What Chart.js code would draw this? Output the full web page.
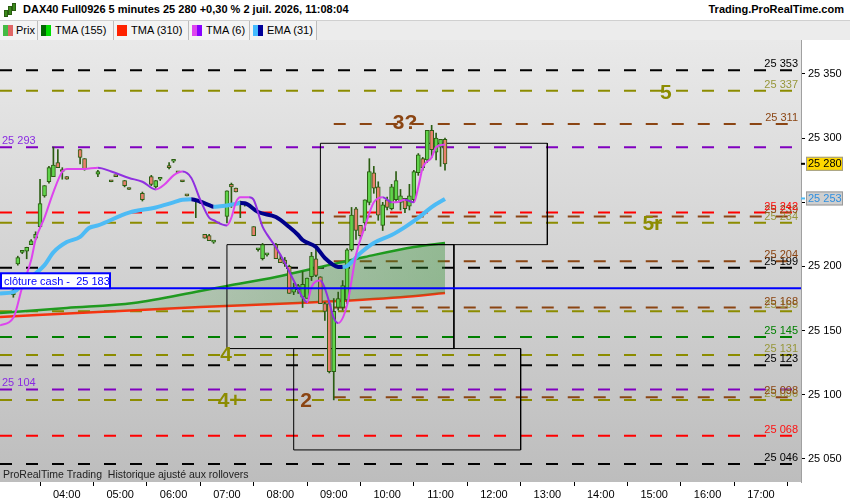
<!DOCTYPE html>
<html lang="fr">
<head>
<meta charset="utf-8">
<title>DAX40 Full0926 5 minutes</title>
<script src="https://cdn.jsdelivr.net/npm/chart.js@4/dist/chart.umd.min.js"></script>
<style>
  html, body { margin: 0; padding: 0; background: #fff; }
  body { width: 850px; height: 500px; position: relative; overflow: hidden; font-family: "Liberation Sans", Arial, sans-serif; }
  #graphique { position: absolute; left: 0; top: 0; }
  #entete { position: absolute; left: 0; top: 0; width: 850px; height: 20px; background: #fff; }
  #entete .titre { position: absolute; left: 23px; top: 3px; font-weight: bold; font-size: 11px; color: #000; }
  #entete .site { position: absolute; right: 6px; top: 3px; font-weight: bold; font-size: 11px; color: #000; }
  #entete i { position: absolute; width: 2px; background: #3a8a1a; border: 1px solid #2b5d12; }
  #legende { position: absolute; left: 0; top: 20px; width: 850px; height: 19px; background: #ececec; border-top: 1px solid #d0d0d0; }
  #legende .item { position: absolute; top: 0; height: 19px; background: #f3f3f3; border-right: 1px solid #bdbdbd; font-size: 11px; line-height: 19px; color: #000; box-sizing: border-box; }
  #legende .item b { position: absolute; left: 3px; top: 4px; width: 10px; height: 11px; }
</style>
</head>
<body>
<canvas id="graphique" width="850" height="500"></canvas>
<div id="entete">
  <i style="left:4px;top:10px;height:5px"></i>
  <i style="left:8px;top:6px;height:7px"></i>
  <i style="left:12px;top:3px;height:6px"></i>
  <span class="titre">DAX40 Full0926 5 minutes 25 280 +0,30 % 2 juil. 2026, 11:08:04</span>
  <span class="site">Trading.ProRealTime.com</span>
</div>
<div id="legende">
  <div class="item" style="left:0;width:38px;padding-left:16px"><b style="background:linear-gradient(90deg,#44bb44 50%,#e06666 50%)"></b>Prix</div>
  <div class="item" style="left:38px;width:76px;padding-left:17px"><b style="background:linear-gradient(90deg,#006600 50%,#00dd00 50%)"></b>TMA (155)</div>
  <div class="item" style="left:114px;width:75px;padding-left:17px"><b style="background:#ff2200"></b>TMA (310)</div>
  <div class="item" style="left:189px;width:61px;padding-left:17px"><b style="background:linear-gradient(90deg,#dd44ee 50%,#8800ff 50%)"></b>TMA (6)</div>
  <div class="item" style="left:250px;width:67px;padding-left:17px"><b style="background:linear-gradient(90deg,#44bbff 50%,#000099 50%)"></b>EMA (31)</div>
</div>
<script>
// bougies 5 minutes
const heures = ['03:00','03:05','03:10','03:15','03:20','03:25','03:30','03:35','03:40','03:45','03:50','03:55','04:00',
  '04:15','04:20','04:35','04:50','04:55','05:05','05:10','05:25','05:35','05:40','05:45','05:55','06:00','06:05','06:10','06:15',
  '06:25','06:30','06:35','06:40','06:45','07:00','07:05','07:10','07:15','07:20','07:30','07:35','07:40','07:45','07:55',
  '08:00','08:05','08:10','08:15','08:20','08:25','08:30','08:35','08:40','08:45','08:50','08:55','09:00','09:05','09:10',
  '09:15','09:20','09:25','09:30','09:35','09:40','09:45','09:50','09:55','10:00','10:05','10:10','10:15','10:20','10:25',
  '10:30','10:35','10:40','10:45','10:50','10:55','11:00','11:05'];
const ouvertures = [25178,25202,25211,25212,25217,25222,25231,25255,25266,25270,25281,25275,25270,
  25291,25284,25272,25267,25271,25267,25261,25257,25270,25262,25268,25278,25282,25274,25267,25256,
  25251,25250,25225,25224,25219,25239,25264,25261,25249,25248,25231,25213,25206,25209,25217,
  25206,25205,25200,25180,25182,25176,25175,25192,25206,25192,25171,25171,25118,25168,25168,
  25174,25213,25245,25232,25234,25250,25273,25262,25232,25252,25245,25252,25250,25253,25247,
  25252,25273,25284,25283,25306,25289,25293,25299];
const hauts = [25185,25208,25212,25215,25221,25227,25268,25263,25278,25293,25291,25277,25270,
  25291,25284,25275,25267,25271,25267,25261,25258,25271,25267,25268,25281,25282,25274,25267,25256,
  25252,25250,25225,25225,25219,25259,25265,25261,25251,25250,25231,25213,25218,25209,25218,
  25209,25207,25201,25187,25186,25196,25191,25211,25214,25192,25172,25172,25175,25180,25189,
  25214,25246,25246,25232,25252,25284,25278,25266,25250,25254,25264,25274,25260,25253,25264,
  25275,25288,25285,25306,25310,25304,25299,25300];
const bas = [25176,25201,25210,25206,25217,25221,25230,25254,25265,25270,25277,25268,25268,
  25280,25275,25270,25266,25270,25262,25260,25251,25263,25261,25267,25276,25281,25273,25266,25255,
  25238,25249,25222,25220,25218,25234,25246,25258,25238,25247,25224,25212,25205,25208,25206,
  25203,25200,25179,25178,25179,25168,25175,25189,25192,25171,25158,25117,25096,25166,25166,
  25171,25212,25221,25222,25228,25248,25257,25236,25228,25244,25244,25250,25244,25242,25244,
  25250,25271,25275,25281,25285,25283,25278,25275];
const clotures = [25181,25207,25211,25215,25220,25225,25249,25263,25277,25279,25277,25274,25268,
  25285,25276,25274,25266,25270,25263,25260,25252,25264,25267,25268,25277,25282,25273,25266,25255,
  25252,25250,25222,25220,25219,25259,25262,25258,25250,25250,25224,25213,25217,25209,25206,
  25203,25202,25179,25184,25185,25186,25191,25208,25193,25171,25165,25118,25165,25175,25185,
  25213,25240,25228,25224,25252,25274,25261,25240,25248,25246,25262,25267,25255,25245,25255,
  25274,25287,25277,25306,25291,25300,25299,25280];

// moyennes mobiles
const tma6Heures = ['02:45','03:00','03:10','03:20','03:25','03:35','03:45','03:55','04:00','04:20','04:35','04:50','05:10',
  '05:25','05:40','05:50','06:00','06:10','06:20','06:30','06:40','06:45','07:00','07:05','07:10','07:15','07:25','07:30',
  '07:40','07:45','07:55','08:05','08:15','08:25','08:30','08:35','08:45','08:50','08:55','09:00','09:05','09:15','09:20',
  '09:25','09:35','09:45','09:55','10:05','10:10','10:20','10:30','10:35','10:40','10:50','10:55','11:05'];
const tma6Valeurs = [25154,25160,25184,25205,25221,25238,25258,25274,25276,25276,25277,25274,25269,
  25266,25260,25264,25271,25274,25269,25252,25238,25236,25232,25238,25250,25254,25254,25252,
  25231,25225,25215,25203,25189,25176,25172,25184,25189,25183,25172,25160,25156,25170,25189,
  25209,25231,25250,25254,25250,25250,25252,25250,25262,25277,25285,25293,25295];
const ema31Heures = ['02:45','03:00','03:15','03:35','03:45','04:00','04:15','04:25','04:35','05:10','05:40','06:00','06:10',
  '06:20','06:30','06:40','06:45','06:50','07:00','07:10','07:15','07:20','07:35','07:55','08:10','08:20','08:25','08:40',
  '08:50','09:05','09:10','09:15','09:30','09:45','10:05','10:20','10:35','10:50','11:05'];
const ema31Valeurs = [25179,25180,25189,25201,25211,25219,25223,25230,25232,25242,25246,25250,25252,
  25252.3,25250.5,25247.8,25246.5,25246.7,25247.5,25248.8,25249.5,25249.3,25242.4,25238.5,25230.7,25224.5,25220.6,25215.2,
  25206.6,25199.6,25199.5,25200.4,25210.5,25218.3,25224.5,25230.7,25237.8,25246.3,25252.6];
const tma155Heures = ['02:45','04:00','05:15','06:30','07:00','07:55','08:50','09:35','10:30','11:05'];
const tma155Valeurs = [25163.7,25167.6,25171.5,25180.9,25184.8,25191.8,25200.4,25207.4,25215.2,25218.3];
const tma310Heures = ['02:45','04:35','06:30','08:20','10:15','11:05'];
const tma310Valeurs = [25160.6,25164.5,25168.4,25171.5,25176,25179.3];

// niveaux horizontaux
const niveauxNoirs = [25353, 25199, 25123, 25046];
const niveauxOlive = [25337, 25234, 25165, 25131, 25096];
const niveauxMarron = [25311, 25239, 25204, 25168, 25098];
const niveauxViolets = [25293, 25104];
const niveauxRouges = [25242, 25068];
const niveauxVerts = [25145];
const debutMarron = '09:00';
const clotureCash = 25183;
const dernierPrix = 25280;
const dernierEma = 25253;

// rectangles
const rectDebut = ['08:45', '07:00', '08:15'];
const rectFin = ['13:00', '11:15', '12:30'];
const rectHaut = [25296, 25217, 25136];
const rectBas = [25217, 25136, 25057];

// étiquettes des vagues
const vagueTextes = ['5', '3?', '5r', '4', '4+', '2'];
const vagueHeures = ['15:13', '10:20', '14:58', '06:59', '07:03', '08:29'];
const vaguePrix = [25335, 25312, 25233, 25131, 25095, 25095];

// axes
const debutAxe = '02:45';
const finAxe = '17:45';
const xTicks = ['04:00','05:00','06:00','07:00','08:00','09:00','10:00','11:00','12:00','13:00','14:00','15:00','16:00','17:00'];
const yTicks = [25050, 25100, 25150, 25200, 25250, 25300, 25350];
const yMin = 25032, yMax = 25376.5;

const police = '"Liberation Sans", Arial, sans-serif';
const enMinutes = h => { const [a, b] = h.split(':').map(Number); return a * 60 + b; };
const versHeure = m => String(Math.floor(m / 60)).padStart(2, '0') + ':' + String(m % 60).padStart(2, '0');
const fmtPrix = v => { const s = Math.round(v).toString(); return s.slice(0, 2) + ' ' + s.slice(2); };

const couleurs = { noir: '#000000', olive: '#8c8c00', marron: '#8b4513', violet: '#8000c0', rouge: '#ff0000', vert: '#008000' };
const couleursTexte = { noir: '#000000', olive: '#97973a', marron: '#8b4513', violet: '#8a2be2', rouge: '#ff1010', vert: '#008000' };
const couleurVague = { '5': '#8c8c00', '3?': '#8b4513', '5r': '#8c8c00', '4': '#8c8c00', '4+': '#8c8c00', '2': '#8b4513' };

const xMin = enMinutes(debutAxe), xMax = enMinutes(finAxe);
const groupes = [
  { valeurs: niveauxNoirs, couleur: 'noir', debut: xMin },
  { valeurs: niveauxOlive, couleur: 'olive', debut: xMin },
  { valeurs: niveauxMarron, couleur: 'marron', debut: enMinutes(debutMarron) },
  { valeurs: niveauxViolets, couleur: 'violet', debut: xMin },
  { valeurs: niveauxRouges, couleur: 'rouge', debut: xMin },
  { valeurs: niveauxVerts, couleur: 'vert', debut: xMin }
];

const serie = (hs, vs) => hs.map((h, i) => ({ x: enMinutes(h), y: vs[i] }));
const sens = (monte, baisse) => ({ borderColor: c => c.p1.parsed.y >= c.p0.parsed.y ? monte : baisse });

const datasets = [];
groupes.forEach(g => g.valeurs.forEach(v => datasets.push({
  type: 'line', data: [{ x: g.debut, y: v }, { x: xMax, y: v }],
  borderColor: couleurs[g.couleur], borderWidth: 2, borderDash: [12, 14], borderCapStyle: 'butt',
  pointRadius: 0, order: 20
})));

// TMA 155 / 310 avec zone remplie
datasets.push({
  type: 'line', label: 'TMA (155)', data: serie(tma155Heures, tma155Valeurs),
  borderColor: '#1f9a1f', borderWidth: 2.5, pointRadius: 0, cubicInterpolationMode: 'monotone',
  fill: '+1', order: 15,
  backgroundColor: c => {
    const a = c.chart.chartArea;
    if (!a) return 'rgba(0,0,0,0)';
    const fin = c.chart.scales.x.getPixelForValue(enMinutes(tma155Heures[tma155Heures.length - 1]));
    const g = c.chart.ctx.createLinearGradient(a.left, 0, fin, 0);
    g.addColorStop(0, 'rgba(40,140,40,0.04)');
    g.addColorStop(1, 'rgba(40,140,40,0.38)');
    return g;
  }
});
datasets.push({
  type: 'line', label: 'TMA (310)', data: serie(tma310Heures, tma310Valeurs),
  borderColor: '#ff3010', borderWidth: 2.5, pointRadius: 0, cubicInterpolationMode: 'monotone', order: 15
});

// rectangles
rectDebut.forEach((d, i) => {
  const x0 = enMinutes(d), x1 = enMinutes(rectFin[i]);
  datasets.push({
    type: 'line', data: [{ x: x0, y: rectHaut[i] }, { x: x1, y: rectHaut[i] }, { x: x1, y: rectBas[i] }, { x: x0, y: rectBas[i] }, { x: x0, y: rectHaut[i] }],
    borderColor: '#000', borderWidth: 1, pointRadius: 0, tension: 0, order: 12
  });
});

// bougies
const minutes = heures.map(enMinutes);
datasets.push({
  type: 'bar', label: 'mèches', data: minutes.map((m, i) => ({ x: m, y: [bas[i], hauts[i]] })),
  backgroundColor: '#2b5d12', barThickness: 1, minBarLength: 1, grouped: false, order: 11
});
datasets.push({
  type: 'bar', label: 'Prix', data: minutes.map((m, i) => ({ x: m, y: [ouvertures[i], clotures[i]] })),
  backgroundColor: minutes.map((m, i) => clotures[i] >= ouvertures[i] ? '#5fd34a' : '#e8806c'),
  borderColor: '#2b5d12', borderWidth: 1, borderSkipped: false, barThickness: 4, minBarLength: 2, grouped: false, order: 10
});

// moyennes courtes
datasets.push({
  type: 'line', label: 'EMA (31)', data: serie(ema31Heures, ema31Valeurs),
  borderWidth: 4, pointRadius: 0, cubicInterpolationMode: 'monotone', borderColor: '#4dbbf5',
  segment: sens('#4dbbf5', '#00008b'), order: 6
});
datasets.push({
  type: 'line', label: 'TMA (6)', data: serie(tma6Heures, tma6Valeurs),
  borderWidth: 2, pointRadius: 0, cubicInterpolationMode: 'monotone', borderColor: '#dd44ee',
  segment: sens('#dd44ee', '#9030e0'), order: 5
});

// clôture cash
datasets.push({
  type: 'line', data: [{ x: xMin, y: clotureCash }, { x: xMax, y: clotureCash }],
  borderColor: '#0000ff', borderWidth: 2, pointRadius: 0, order: 4
});

const boiteAxe = (ctx, xa, y, texte, fond, texteCouleur, trait) => {
  ctx.fillStyle = trait;
  ctx.fillRect(xa, y - 1, 4, 2);
  ctx.fillStyle = fond;
  ctx.fillRect(xa + 5, y - 7, 37, 14);
  ctx.strokeStyle = '#9a9a9a';
  ctx.lineWidth = 1;
  ctx.strokeRect(xa + 5.5, y - 6.5, 36, 13);
  ctx.fillStyle = texteCouleur;
  ctx.font = `11px ${police}`;
  ctx.textAlign = 'left';
  ctx.textBaseline = 'middle';
  ctx.fillText(texte, xa + 7, y + 0.5);
};

const decor = {
  id: 'decor',
  beforeDraw(chart) {
    const { ctx, chartArea: a } = chart;
    ctx.save();
    ctx.fillStyle = '#fff';
    ctx.fillRect(0, 0, chart.width, chart.height);
    const g = ctx.createLinearGradient(0, a.top, 0, a.bottom);
    g.addColorStop(0, '#e9e9e9');
    g.addColorStop(1, '#bdbdbd');
    ctx.fillStyle = g;
    ctx.fillRect(a.left, a.top, a.right - a.left, a.bottom - a.top);
    ctx.restore();
  },
  afterDatasetsDraw(chart) {
    const { ctx, chartArea: a, scales: { x, y } } = chart;
    ctx.save();
    ctx.font = `11px ${police}`;
    ctx.textBaseline = 'alphabetic';
    groupes.forEach(g => {
      if (g.couleur === 'violet') return;
      g.valeurs.forEach(v => {
        ctx.fillStyle = couleursTexte[g.couleur];
        ctx.textAlign = 'right';
        ctx.fillText(fmtPrix(v), a.right - 3, y.getPixelForValue(v) - 3);
      });
    });
    niveauxViolets.forEach(v => {
      ctx.fillStyle = couleursTexte.violet;
      ctx.textAlign = 'left';
      ctx.fillText(fmtPrix(v), a.left + 2, y.getPixelForValue(v) - 3.5);
    });

    ctx.font = `bold 21px ${police}`;
    ctx.textAlign = 'center';
    ctx.textBaseline = 'middle';
    vagueTextes.forEach((t, i) => {
      ctx.fillStyle = couleurVague[t];
      ctx.fillText(t, x.getPixelForValue(enMinutes(vagueHeures[i])), y.getPixelForValue(vaguePrix[i]));
    });

    const yc = y.getPixelForValue(clotureCash);
    ctx.fillStyle = '#fff';
    ctx.fillRect(a.left + 1, yc - 15, 109, 15);
    ctx.strokeStyle = '#0000ff';
    ctx.lineWidth = 2;
    ctx.strokeRect(a.left + 1, yc - 15, 109, 15);
    ctx.fillStyle = '#0000ff';
    ctx.font = `11px ${police}`;
    ctx.textAlign = 'left';
    ctx.textBaseline = 'alphabetic';
    ctx.fillText('clôture cash -  ' + fmtPrix(clotureCash), a.left + 4, yc - 3.5);

    ctx.fillStyle = '#222';
    ctx.font = `10.5px ${police}`;
    ctx.fillText('ProRealTime Trading  Historique ajusté aux rollovers', a.left + 3, a.bottom - 4);
    ctx.restore();
  },
  afterDraw(chart) {
    const { ctx, chartArea: a, scales: { y } } = chart;
    ctx.save();
    boiteAxe(ctx, a.right, y.getPixelForValue(dernierPrix), fmtPrix(dernierPrix), '#ffd700', '#000', '#000');
    boiteAxe(ctx, a.right, y.getPixelForValue(dernierEma), fmtPrix(dernierEma), '#cfcfcf', '#2e8fe0', '#4dbbf5');
    ctx.restore();
  }
};

new Chart(document.getElementById('graphique'), {
  type: 'bar',
  data: { datasets: datasets },
  plugins: [decor],
  options: {
    responsive: false,
    animation: false,
    layout: { padding: { top: 40, left: 0, right: 0, bottom: 0 } },
    plugins: { legend: { display: false }, tooltip: { enabled: false } },
    scales: {
      x: {
        type: 'linear', min: xMin, max: xMax, offset: false,
        grid: { drawOnChartArea: false, drawTicks: true, tickLength: 4, color: '#000' },
        border: { display: false },
        ticks: { font: { size: 11, family: police }, color: '#000', maxRotation: 0, autoSkip: false, padding: 2, callback: v => versHeure(v) },
        afterBuildTicks: s => { s.ticks = xTicks.map(t => ({ value: enMinutes(t) })); },
        afterFit: s => { s.height = 18; }
      },
      y: {
        position: 'right', min: yMin, max: yMax,
        grid: { drawOnChartArea: false, drawTicks: true, tickLength: 4, color: '#000' },
        border: { display: true, color: '#a0a0a0' },
        ticks: { font: { size: 11, family: police }, color: '#000', padding: 3, callback: v => fmtPrix(v) },
        afterBuildTicks: s => { s.ticks = yTicks.map(v => ({ value: v })); },
        afterFit: s => { s.width = 49; }
      }
    }
  }
});
</script>
</body>
</html>
